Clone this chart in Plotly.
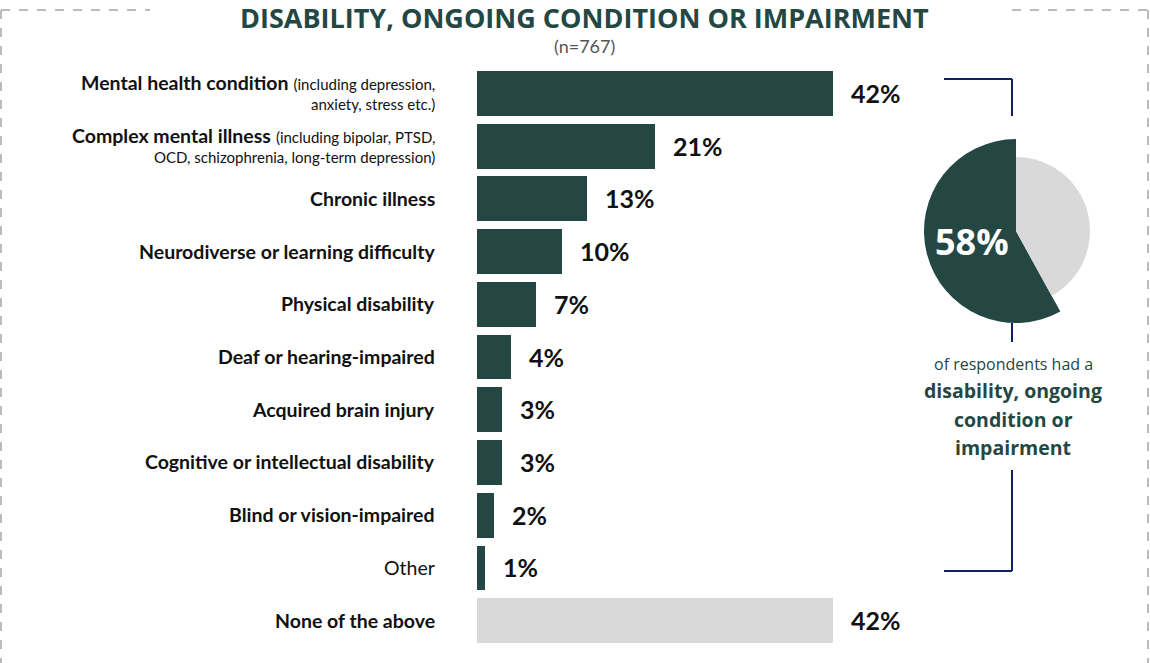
import plotly.graph_objects as go

# ---- data -------------------------------------------------------------
categories = [
    "Mental health condition",
    "Complex mental illness",
    "Chronic illness",
    "Neurodiverse or learning difficulty",
    "Physical disability",
    "Deaf or hearing-impaired",
    "Acquired brain injury",
    "Cognitive or intellectual disability",
    "Blind or vision-impaired",
    "Other",
    "None of the above",
]
category_notes = [
    ["(including depression,", "anxiety, stress etc.)"],
    ["(including bipolar, PTSD,", "OCD, schizophrenia, long-term depression)"],
    None, None, None, None, None, None, None, None, None,
]
bold_label = [True] * 9 + [False, True]
values = [42, 21, 13, 10, 7, 4, 3, 3, 2, 1, 42]

pie_labels = ["No disability", "Disability, ongoing condition or impairment"]
pie_values = [42, 58]

title_text = "DISABILITY, ONGOING CONDITION OR IMPAIRMENT"
subtitle_text = "(n=767)"

# ---- styling ----------------------------------------------------------
W, H = 1150, 663
DARK = "#254744"
LIGHT = "#d9d9d9"
NAVY = "#0d2366"
BORDER = "#a6a6a6"
LABEL_FONT = "Lato"
HEAD_FONT = "Open Sans"
MAIN_SIZE = 19.5
NOTE_SIZE = 15


def px(x):
    return x / W


def py(y):
    return 1 - y / H


bar_colors = [DARK] * (len(values) - 1) + [LIGHT]
ypos = list(range(len(categories)))

fig = go.Figure()

fig.add_trace(go.Bar(
    x=values, y=ypos, orientation="h",
    marker=dict(color=bar_colors, line=dict(width=0)),
    width=0.85, hoverinfo="skip", showlegend=False,
))

# pie with the dark slice drawn larger than the light one
cx, cy = 1016, 231
r_big, r_small = 92, 74
fig.add_trace(go.Pie(
    labels=pie_labels, values=pie_values, sort=False, direction="clockwise",
    rotation=0, textinfo="none", hoverinfo="skip", showlegend=False,
    marker=dict(colors=["rgba(0,0,0,0)", DARK], line=dict(width=0)),
    domain=dict(x=[px(cx - r_big), px(cx + r_big)], y=[py(cy + r_big), py(cy - r_big)]),
))
fig.add_trace(go.Pie(
    labels=pie_labels, values=pie_values, sort=False, direction="clockwise",
    rotation=0, textinfo="none", hoverinfo="skip", showlegend=False,
    marker=dict(colors=[LIGHT, "rgba(0,0,0,0)"], line=dict(width=0)),
    domain=dict(x=[px(cx - r_small), px(cx + r_small)], y=[py(cy + r_small), py(cy - r_small)]),
))

annotations = []


def label(i, text, yshift=0):
    annotations.append(dict(
        x=px(437), xref="paper", y=i, yref="y", xanchor="right", yanchor="middle",
        yshift=yshift, text=text, align="right", showarrow=False,
        font=dict(family=LABEL_FONT, size=MAIN_SIZE, color="#111111"),
    ))


# category labels (two-line ones are split so the line spacing stays tight)
for i, (cat, note, bold) in enumerate(zip(categories, category_notes, bold_label)):
    main = f"<b>{cat}</b>" if bold else cat
    if note:
        label(i, f"{main} <span style='font-size:{NOTE_SIZE}px'>{note[0]}</span>", yshift=10)
        label(i, f"<span style='font-size:{NOTE_SIZE}px'>{note[1]}</span>", yshift=-11)
    else:
        label(i, main)

# value labels
for i, v in enumerate(values):
    annotations.append(dict(
        x=v, xref="x", y=i, yref="y", xanchor="left", yanchor="middle",
        xshift=16, text=f"<b>{v}%</b>", showarrow=False,
        font=dict(family=LABEL_FONT, size=25, color="#111111"),
    ))

# title & sample size
annotations.append(dict(
    x=px(584), y=py(17), xref="paper", yref="paper", xanchor="center", yanchor="middle",
    text=f"<b>{title_text}</b>", showarrow=False,
    font=dict(family=HEAD_FONT, size=27, color=DARK),
))
annotations.append(dict(
    x=px(584), y=py(46), xref="paper", yref="paper", xanchor="center", yanchor="middle",
    text=subtitle_text, showarrow=False,
    font=dict(family=LABEL_FONT, size=18, color="#555555"),
))

# pie callout
annotations.append(dict(
    x=px(972), y=py(241), xref="paper", yref="paper", xanchor="center", yanchor="middle",
    text=f"<b>{pie_values[1]}%</b>", showarrow=False,
    font=dict(family=HEAD_FONT, size=36, color="white"),
))
annotations.append(dict(
    x=px(1013), y=py(364), xref="paper", yref="paper", xanchor="center", yanchor="middle",
    text="of respondents had a", showarrow=False,
    font=dict(family=HEAD_FONT, size=16, color=DARK),
))
for txt, yy in [("disability, ongoing", 390), ("condition or", 419), ("impairment", 447)]:
    annotations.append(dict(
        x=px(1013), y=py(yy), xref="paper", yref="paper", xanchor="center", yanchor="middle",
        text=f"<b>{txt}</b>", showarrow=False,
        font=dict(family=HEAD_FONT, size=19.5, color=DARK),
    ))

shapes = []


def seg(x0, y0, x1, y1, color, width, dash="solid"):
    shapes.append(dict(
        type="line", xref="paper", yref="paper",
        x0=px(x0), y0=py(y0), x1=px(x1), y1=py(y1),
        line=dict(color=color, width=width, dash=dash),
    ))


# dashed frame
seg(1, 10, 150, 10, BORDER, 1.5, "dash")
seg(1012, 10, 1148, 10, BORDER, 1.5, "dash")
seg(1, 10, 1, 663, BORDER, 1.5, "dash")
seg(1148, 10, 1148, 663, BORDER, 1.5, "dash")

# bracket around the pie
seg(944, 79, 1012, 79, NAVY, 2)
seg(1012, 79, 1012, 116, NAVY, 2)
seg(1012, 323, 1012, 342, NAVY, 2)
seg(1012, 470, 1012, 571, NAVY, 2)
seg(944, 571, 1012, 571, NAVY, 2)

scale = 8.47  # pixels per percentage point
fig.update_layout(
    width=W, height=H,
    margin=dict(l=0, r=0, t=0, b=0),
    paper_bgcolor="white", plot_bgcolor="white",
    xaxis=dict(domain=[px(477), px(477 + 50 * scale)], range=[0, 50],
               visible=False, fixedrange=True),
    yaxis=dict(domain=[py(646.5), py(66.5)], range=[10.5, -0.5],
               visible=False, fixedrange=True),
    annotations=annotations, shapes=shapes,
    bargap=0,
)

fig.write_html("out.html")
